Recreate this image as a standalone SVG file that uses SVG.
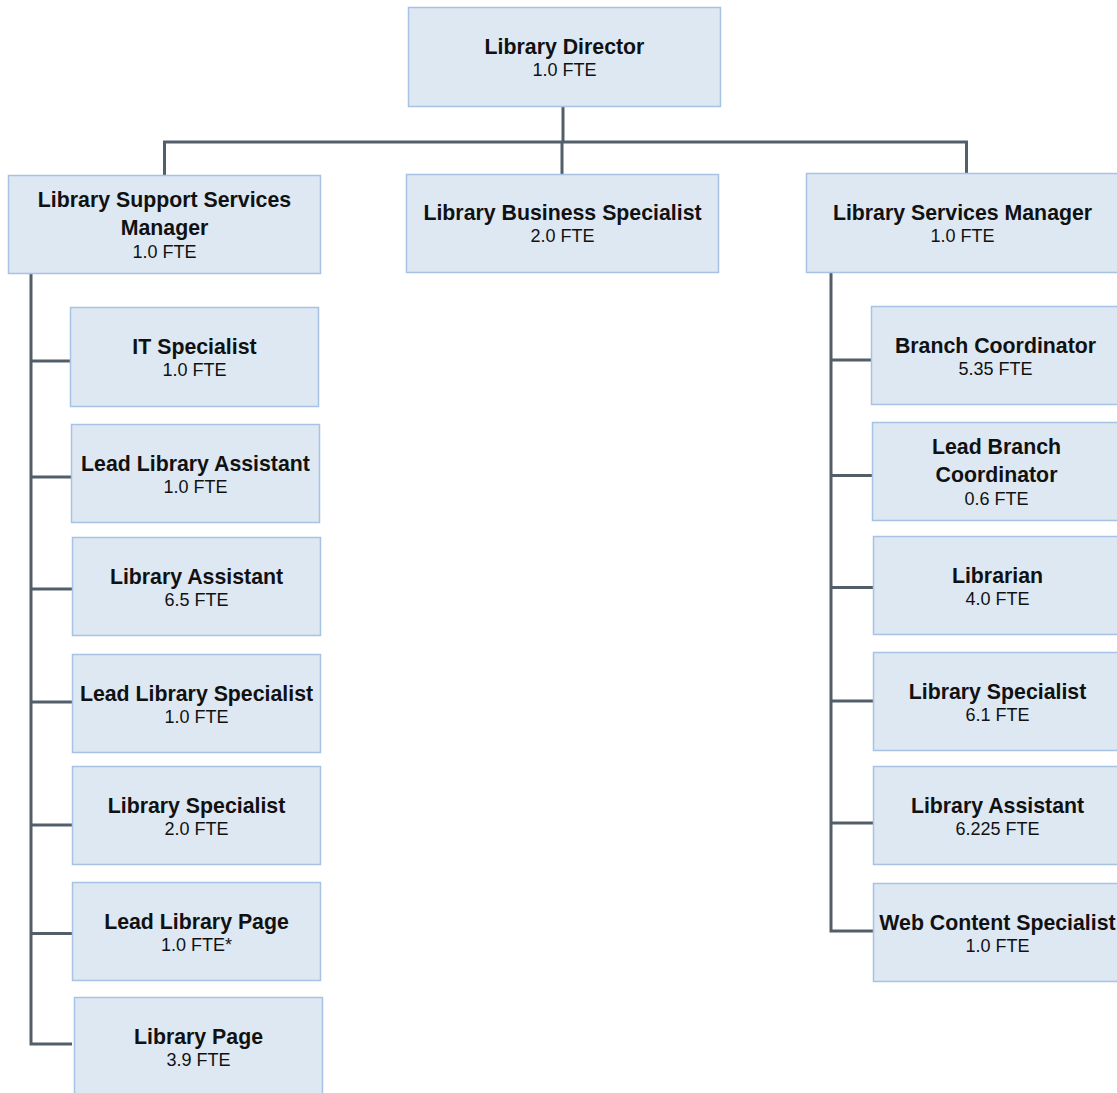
<svg xmlns="http://www.w3.org/2000/svg" width="1117" height="1093" viewBox="0 0 1117 1093">
<style>
.box{fill:#dde8f3;stroke:#a7c3e3;stroke-width:1.5}
.t{font-family:"Liberation Sans",Arial,sans-serif;fill:#111;text-anchor:middle}
.b{font-weight:bold;font-size:21.3px}
.r{font-size:18px}
.c{fill:none;stroke:#525f69;stroke-width:3}
</style>
<rect width="1117" height="1093" fill="#fff"/>
<g id="connectors">
<path class="c" d="M563 107V142M164.5 175V142H966.5V174M562 142V174"/>
<path class="c" d="M31 274V1044H72M31 361H71M31 477H72M31 589H73M31 702H73M31 825H73M31 933.5H73"/>
<path class="c" d="M831 273V931H873M831 360H871M831 475.5H872M831 587.5H873M831 701H873M831 823H873"/>
</g>
<g id="director"><rect class="box" x="408.5" y="7.5" width="312" height="99"/><text class="t b" x="564.5" y="54">Library Director</text><text class="t r" x="564.5" y="76">1.0 FTE</text></g>
<g id="lssm"><rect class="box" x="8.5" y="175.5" width="312" height="98"/><text class="t b" x="164.5" y="207">Library Support Services</text><text class="t b" x="164.5" y="235">Manager</text><text class="t r" x="164.5" y="258">1.0 FTE</text></g>
<g id="lbs"><rect class="box" x="406.5" y="174.5" width="312" height="98"/><text class="t b" x="562.5" y="220">Library Business Specialist</text><text class="t r" x="562.5" y="242">2.0 FTE</text></g>
<g id="lsm"><rect class="box" x="806.5" y="173.5" width="312" height="99"/><text class="t b" x="962.5" y="220">Library Services Manager</text><text class="t r" x="962.5" y="242">1.0 FTE</text></g>
<g id="it"><rect class="box" x="70.5" y="307.5" width="248" height="99"/><text class="t b" x="194.5" y="354">IT Specialist</text><text class="t r" x="194.5" y="376">1.0 FTE</text></g>
<g id="lla"><rect class="box" x="71.5" y="424.5" width="248" height="98"/><text class="t b" x="195.5" y="470.5">Lead Library Assistant</text><text class="t r" x="195.5" y="492.5">1.0 FTE</text></g>
<g id="la"><rect class="box" x="72.5" y="537.5" width="248" height="98"/><text class="t b" x="196.5" y="583.5">Library Assistant</text><text class="t r" x="196.5" y="605.5">6.5 FTE</text></g>
<g id="lls"><rect class="box" x="72.5" y="654.5" width="248" height="98"/><text class="t b" x="196.5" y="700.5">Lead Library Specialist</text><text class="t r" x="196.5" y="722.5">1.0 FTE</text></g>
<g id="ls"><rect class="box" x="72.5" y="766.5" width="248" height="98"/><text class="t b" x="196.5" y="812.5">Library Specialist</text><text class="t r" x="196.5" y="834.5">2.0 FTE</text></g>
<g id="llp"><rect class="box" x="72.5" y="882.5" width="248" height="98"/><text class="t b" x="196.5" y="928.5">Lead Library Page</text><text class="t r" x="196.5" y="950.5">1.0 FTE*</text></g>
<g id="lp"><rect class="box" x="74.5" y="997.5" width="248" height="99"/><text class="t b" x="198.5" y="1044">Library Page</text><text class="t r" x="198.5" y="1066">3.9 FTE</text></g>
<g id="bc"><rect class="box" x="871.5" y="306.5" width="248" height="98"/><text class="t b" x="995.5" y="352.5">Branch Coordinator</text><text class="t r" x="995.5" y="374.5">5.35 FTE</text></g>
<g id="lbc"><rect class="box" x="872.5" y="422.5" width="248" height="98"/><text class="t b" x="996.5" y="454">Lead Branch</text><text class="t b" x="996.5" y="482">Coordinator</text><text class="t r" x="996.5" y="505">0.6 FTE</text></g>
<g id="librarian"><rect class="box" x="873.5" y="536.5" width="248" height="98"/><text class="t b" x="997.5" y="582.5">Librarian</text><text class="t r" x="997.5" y="604.5">4.0 FTE</text></g>
<g id="rls"><rect class="box" x="873.5" y="652.5" width="248" height="98"/><text class="t b" x="997.5" y="698.5">Library Specialist</text><text class="t r" x="997.5" y="720.5">6.1 FTE</text></g>
<g id="rla"><rect class="box" x="873.5" y="766.5" width="248" height="98"/><text class="t b" x="997.5" y="812.5">Library Assistant</text><text class="t r" x="997.5" y="834.5">6.225 FTE</text></g>
<g id="wcs"><rect class="box" x="873.5" y="883.5" width="248" height="98"/><text class="t b" x="997.5" y="929.5">Web Content Specialist</text><text class="t r" x="997.5" y="951.5">1.0 FTE</text></g>
</svg>
